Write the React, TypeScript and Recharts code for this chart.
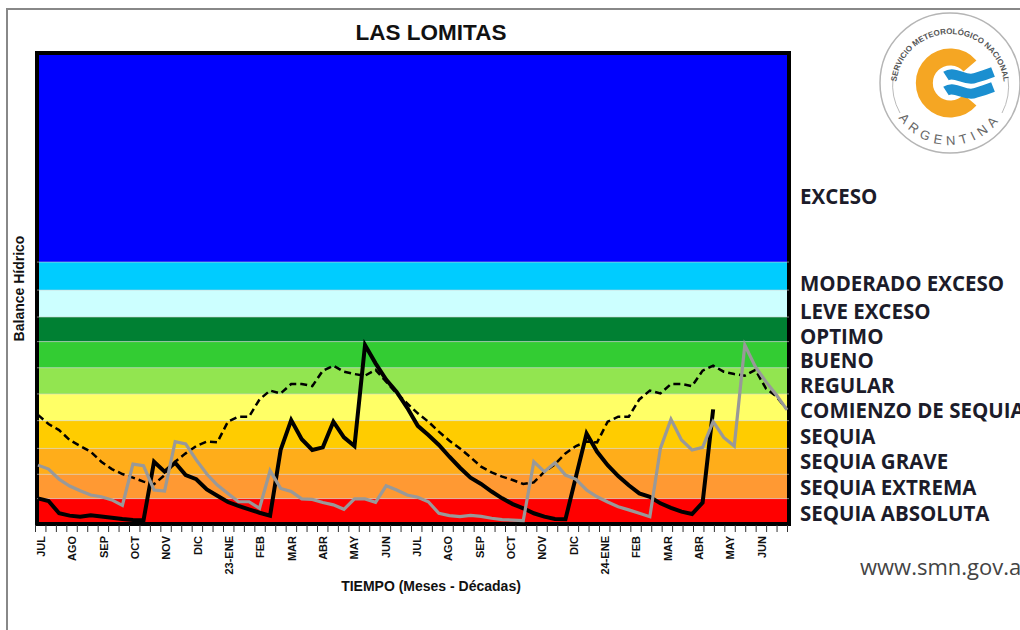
import { LineChart, Line, XAxis, YAxis, ReferenceArea, ReferenceLine } from 'recharts';

const monthLabels = ['JUL', 'AGO', 'SEP', 'OCT', 'NOV', 'DIC', '23-ENE', 'FEB', 'MAR', 'ABR', 'MAY', 'JUN', 'JUL', 'AGO', 'SEP', 'OCT', 'NOV', 'DIC', '24-ENE', 'FEB', 'MAR', 'ABR', 'MAY', 'JUN'];

// three decades per month, two years
const decadeTicks = [0, 1, 2, 3, 4, 5, 6, 7, 8, 9, 10, 11, 12, 13, 14, 15, 16, 17, 18, 19, 20, 21, 22, 23, 24, 25, 26, 27, 28, 29, 30, 31, 32, 33, 34, 35, 36, 37, 38, 39, 40, 41, 42, 43, 44, 45, 46, 47, 48, 49, 50, 51, 52, 53, 54, 55, 56, 57, 58, 59, 60, 61, 62, 63, 64, 65, 66, 67, 68, 69, 70, 71, 72];

const actual = [0.98, 0.88, 0.41, 0.32, 0.28, 0.33, 0.29, 0.24, 0.19, 0.15, 0.14, 2.38, 2.0, 2.34, 1.87, 1.71, 1.32, 1.08, 0.84, 0.69, 0.56, 0.43, 0.32, 2.83, 3.97, 3.24, 2.83, 2.93, 3.91, 3.31, 2.98, 6.84, 6.14, 5.52, 5.05, 4.44, 3.75, 3.4, 3.02, 2.57, 2.15, 1.77, 1.53, 1.24, 0.98, 0.76, 0.6, 0.41, 0.28, 0.19, 0.18, 1.82, 3.46, 2.76, 2.25, 1.83, 1.48, 1.17, 1.04, 0.79, 0.62, 0.47, 0.38, 0.82, 4.38];

const previous = [2.25, 2.1, 1.71, 1.45, 1.27, 1.11, 1.04, 0.92, 0.71, 2.29, 2.23, 1.3, 1.26, 3.15, 3.06, 2.45, 1.91, 1.49, 1.17, 0.85, 0.85, 0.6, 2.04, 1.36, 1.24, 0.96, 0.94, 0.82, 0.73, 0.56, 0.96, 0.96, 0.83, 1.46, 1.3, 1.11, 1.02, 0.85, 0.41, 0.32, 0.28, 0.33, 0.29, 0.22, 0.17, 0.15, 0.13, 2.38, 2.0, 2.34, 1.87, 1.71, 1.3, 1.04, 0.84, 0.66, 0.54, 0.41, 0.28, 2.89, 4.0, 3.21, 2.83, 2.93, 3.91, 3.31, 2.98, 6.84, 6.01, 5.44, 4.93, 4.36];

const normal = [4.17, 3.82, 3.59, 3.21, 2.98, 2.76, 2.38, 2.1, 1.91, 1.77, 1.62, 1.52, 1.87, 2.38, 2.7, 2.98, 3.15, 3.12, 3.91, 4.1, 4.1, 4.76, 5.1, 4.99, 5.35, 5.35, 5.27, 5.86, 6.05, 5.82, 5.73, 5.67, 5.89, 5.44, 4.99, 4.61, 4.23, 3.91, 3.53, 3.18, 2.89, 2.55, 2.19, 1.97, 1.81, 1.68, 1.53, 1.59, 2.0, 2.28, 2.7, 2.98, 3.15, 3.12, 3.91, 4.1, 4.1, 4.76, 5.1, 4.99, 5.35, 5.35, 5.27, 5.86, 6.05, 5.82, 5.73, 5.67, 5.89, 5.18, 4.87, 4.38];

const bandLimits = [0, 0.97, 1.9, 2.89, 3.95, 4.97, 5.97, 6.97, 7.91, 8.94, 10.01, 18];
const bandColors = ['#ff0000', '#ff9933', '#ffad1a', '#ffcc00', '#ffff66', '#92e550', '#33cc33', '#008033', '#ccffff', '#00ccff', '#0000ff'];

const legendNames = ['EXCESO', 'MODERADO EXCESO', 'LEVE EXCESO', 'OPTIMO', 'BUENO', 'REGULAR', 'COMIENZO DE SEQUIA', 'SEQUIA', 'SEQUIA GRAVE', 'SEQUIA EXTREMA', 'SEQUIA ABSOLUTA'];
const legendRows = [196, 283, 311, 336, 360, 385, 410, 436, 461, 487, 513];

const chartData = normal.map((value, i) => ({
  decade: i,
  normal: value,
  actual: actual[i] ?? null,
  previous: previous[i],
}));

const font = 'Arial, "Liberation Sans", sans-serif';

function DecadeTick({ x, y, payload }: any) {
  const month = payload.value / 3;
  const label = Number.isInteger(month) ? monthLabels[month] : undefined;
  // recharts hands the tick a y well below the axis, pull it back up
  const top = y - 29;
  return (
    <g>
      <line x1={x - 1.5} x2={x - 1.5} y1={top - 7} y2={top} stroke="#333" strokeWidth={1} />
      {label && (
        <text
          transform={`translate(${x + 8},${top + 4}) rotate(-90)`}
          textAnchor="end"
          fontFamily={font}
          fontWeight="bold"
          fontSize={11}
          fill="#111"
        >
          {label}
        </text>
      )}
    </g>
  );
}

function Logo() {
  return (
    <svg width={150} height={150} viewBox="875 8 150 150" style={{ position: 'absolute', left: 875, top: 8 }}>
      <defs>
        <path id="logoTop" d="M 896 88 A 54 54 0 0 1 1004 88" />
        <path id="logoBottom" d="M 888 83 A 62 62 0 0 0 1012 83" />
      </defs>
      <circle cx={950} cy={83} r={70} fill="#fff" stroke="#b5b5b5" strokeWidth={1.5} />
      <path d="M 893 78 A 58 58 0 0 0 900 113" fill="none" stroke="#bbb" strokeWidth={1} />
      <path d="M 1008 78 A 58 58 0 0 1 1002 113" fill="none" stroke="#bbb" strokeWidth={1} />
      <text fontFamily={font} fontWeight="bold" fontSize={8} fill="#555">
        <textPath href="#logoTop" startOffset="50%" textAnchor="middle">SERVICIO METEOROLÓGICO NACIONAL</textPath>
      </text>
      <text fontFamily={font} fontSize={13} letterSpacing={5} fill="#666">
        <textPath href="#logoBottom" startOffset="50%" textAnchor="middle">ARGENTINA</textPath>
      </text>
      <path d="M 970 66 A 26 26 0 1 0 970 100" fill="none" stroke="#f5a623" strokeWidth={17} />
      <path d="M 946 76 C 955 70 965 82 975 78 C 982 76 988 74 993 72" fill="none" stroke="#1b8fd0" strokeWidth={10} />
      <path d="M 946 91 C 955 85 965 97 975 93 C 982 91 988 89 993 87" fill="none" stroke="#1b8fd0" strokeWidth={10} />
    </svg>
  );
}

export default function App() {
  return (
    <div style={{ position: 'absolute', left: 0, top: 0, width: 1020, height: 630, overflow: 'hidden', background: '#fff' }}>
      <div style={{ position: 'absolute', left: 6, top: 8, width: 1100, height: 700, borderLeft: '2px solid #888', borderTop: '2px solid #888' }} />
      <div style={{ position: 'absolute', left: 0, top: 0 }}>
        <LineChart width={1020} height={630} data={chartData} margin={{ top: 53, right: 231, bottom: 0, left: 0 }}>
          <XAxis dataKey="decade" xAxisId="line" hide padding={{ left: 1, right: 2 }} />
          <XAxis
            xAxisId="ticks"
            type="number"
            dataKey="decade"
            domain={[0, 72]}
            ticks={decadeTicks}
            interval={0}
            height={106}
            axisLine={false}
            tickLine={false}
            tick={<DecadeTick />}
            tickMargin={0}
            tickSize={7}
            label={{ value: 'TIEMPO (Meses - Décadas)', position: 'insideBottom', offset: 37, dx: 18, dy: -32, fontFamily: font, fontWeight: 'bold', fontSize: 14, fill: '#111' }}
          />
          <YAxis
            domain={[0, 18]}
            width={37}
            tick={false}
            axisLine={false}
            tickLine={false}
            label={{ value: 'Balance Hídrico', angle: -90, position: 'insideLeft', offset: 19, textAnchor: 'middle', fontFamily: font, fontWeight: 'bold', fontSize: 14, fill: '#111' }}
          />
          {bandColors.map((color, i) => (
            <ReferenceArea key={color} xAxisId="ticks" y1={bandLimits[i]} y2={bandLimits[i + 1]} fill={color} fillOpacity={1} stroke="none" />
          ))}
          {bandLimits.slice(1, -1).map((limit) => (
            <ReferenceLine key={limit} xAxisId="ticks" y={limit} stroke="#d0d0d0" strokeOpacity={0.6} strokeWidth={1} />
          ))}
          <ReferenceArea xAxisId="ticks" y1={0} y2={18} fill="none" stroke="#000" strokeWidth={4} />
          <Line xAxisId="line" dataKey="normal" stroke="#000" strokeWidth={2.5} strokeDasharray="7 4" dot={false} isAnimationActive={false} />
          <Line xAxisId="line" dataKey="actual" stroke="#000" strokeWidth={4} dot={false} isAnimationActive={false} />
          <Line xAxisId="line" dataKey="previous" stroke="#999999" strokeWidth={3.2} dot={false} isAnimationActive={false} />
        </LineChart>
      </div>
      <div style={{ position: 'absolute', left: 231, width: 400, top: 20, textAlign: 'center', fontFamily: font, fontWeight: 'bold', fontSize: 22.5, lineHeight: '26px', color: '#111' }}>
        LAS LOMITAS
      </div>
      <Logo />
      {legendNames.map((name, i) => (
        <div key={name} style={{ position: 'absolute', left: 800, top: legendRows[i] - 10, lineHeight: '20px', fontFamily: '"Open Sans", sans-serif', fontWeight: 700, fontSize: 20.5, color: '#1c1c2a', whiteSpace: 'nowrap' }}>
          {name}
        </div>
      ))}
      <div style={{ position: 'absolute', left: 860, top: 553, lineHeight: '26px', fontFamily: '"Open Sans", sans-serif', fontSize: 22, color: '#444', whiteSpace: 'nowrap' }}>
        www.smn.gov.ar
      </div>
    </div>
  );
}
